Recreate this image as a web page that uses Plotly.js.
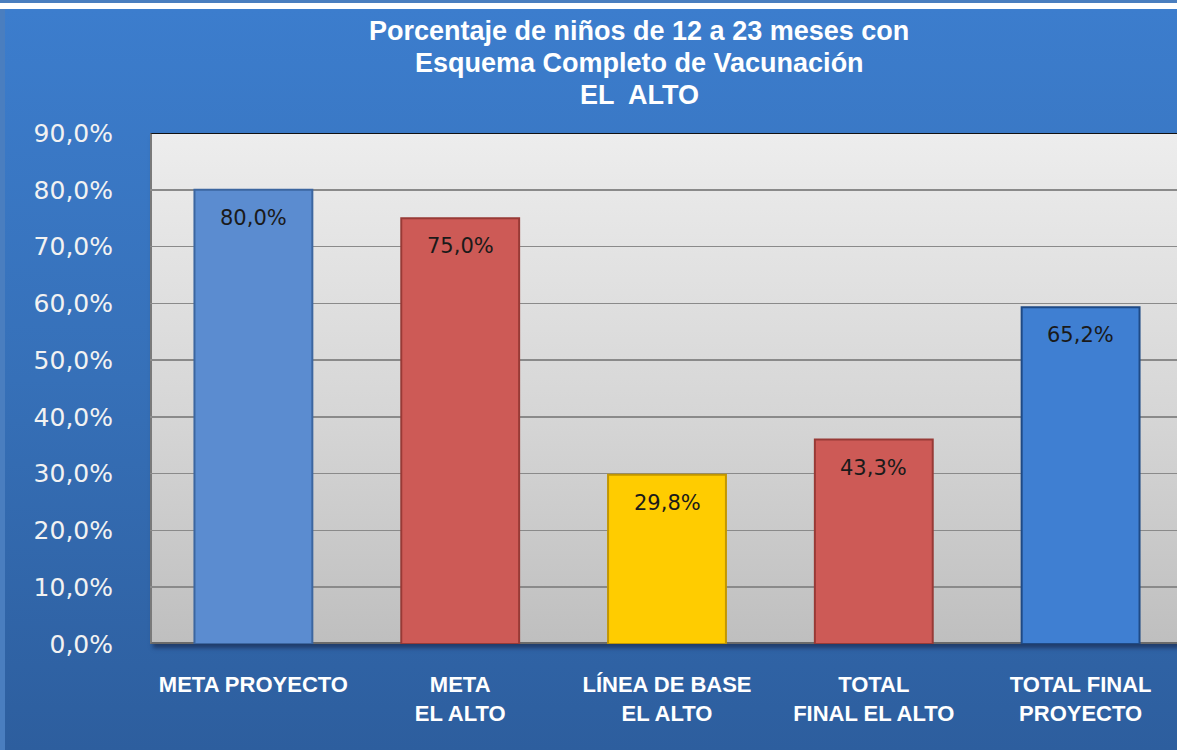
<!DOCTYPE html>
<html>
<head>
<meta charset="utf-8">
<script src="https://cdn.plot.ly/plotly-3.0.1.min.js"></script>
<style>
  html, body { margin:0; padding:0; width:1177px; height:750px; overflow:hidden; background:#4a7ebf; }
  #white { position:absolute; left:0; top:3px; width:1177px; height:6px; background:#ffffff; }
  #panel { position:absolute; left:5px; top:9px; width:1172px; height:741px;
           background:linear-gradient(to bottom, #3c7dcd 0%, #3670b8 50%, #2d5e9e 100%); }
  #plotbg { position:absolute; left:150px; top:133px; width:1027px; height:511px;
            background:linear-gradient(to bottom, #ededed 0%, #d6d6d6 55%, #bfbfbf 100%);
            border-top:1px solid #111; border-left:2px solid #7a7a7a; border-bottom:2px solid #6a6a6a;
            box-sizing:border-box; box-shadow: 3px 4px 4px rgba(20,30,60,0.55); }
  #chart { position:absolute; left:0; top:0; width:1177px; height:750px; }
</style>
</head>
<body>
<div id="white"></div>
<div id="panel"></div>
<div id="plotbg"></div>
<div id="chart"></div>
<script>
const categories = ["META PROYECTO", "META<br>EL ALTO", "LÍNEA DE BASE<br>EL ALTO", "TOTAL<br>FINAL EL ALTO", "TOTAL FINAL<br>PROYECTO"];
const barHeights = [80.0, 75.0, 29.8, 36.0, 59.3];
const barLabels = ["80,0%", "75,0%", "29,8%", "43,3%", "65,2%"];
const barColors = ["#5b8cd0", "#cd5a56", "#ffcc00", "#cd5a56", "#3f7fd2"];
const barEdges = ["#3c66a0", "#983a36", "#c29600", "#983a36", "#1f4a85"];
const yTickVals = [0, 10, 20, 30, 40, 50, 60, 70, 80, 90];
const yTickText = ["0,0%", "10,0%", "20,0%", "30,0%", "40,0%", "50,0%", "60,0%", "70,0%", "80,0%", "90,0%"];
const titleLines = ["Porcentaje de niños de 12 a 23 meses con", "Esquema Completo de Vacunación", "EL  ALTO"];

const xIdx = categories.map((c, i) => i);

const trace = {
  type: "bar",
  x: xIdx,
  y: barHeights,
  width: 0.57,
  marker: { color: barColors, line: { color: barEdges, width: 2 } },
  hoverinfo: "none"
};

const annotations = barLabels.map((t, i) => ({
  x: i, y: barHeights[i], xref: "x", yref: "y",
  text: t, showarrow: false, yshift: -28, yanchor: "middle",
  font: { family: "DejaVu Sans, Verdana, sans-serif", size: 21, color: "#1a1a1a" }
}));

const titleY = [31, 63, 95];
const plotL = 150, plotT = 133, plotB = 644, plotW = 1027, plotH = plotB - plotT;
titleLines.forEach((t, i) => {
  annotations.push({
    x: (639 - plotL) / plotW, y: (plotB - titleY[i]) / plotH, xref: "paper", yref: "paper",
    xanchor: "center", yanchor: "middle", text: "<b>" + t + "</b>", showarrow: false,
    font: { family: "Liberation Sans, Arial, sans-serif", size: 27, color: "#ffffff" }
  });
});

const layout = {
  width: 1177, height: 750,
  margin: { l: plotL, r: 1177 - plotL - plotW, t: plotT, b: 750 - plotB, pad: 0 },
  paper_bgcolor: "rgba(0,0,0,0)",
  plot_bgcolor: "rgba(0,0,0,0)",
  showlegend: false,
  xaxis: {
    range: [-0.5, -0.5 + plotW / 206.8],
    tickvals: xIdx, ticktext: categories.map(c => "<b>" + c + "</b>"),
    showgrid: false, zeroline: false, showline: false, ticks: "",
    ticklabelstandoff: 25,
    tickfont: { family: "Liberation Sans, Arial, sans-serif", size: 22, color: "#ffffff" },
    fixedrange: true
  },
  yaxis: {
    range: [0, 90],
    tickvals: yTickVals, ticktext: yTickText,
    showgrid: true, gridcolor: "#8a8a8a", gridwidth: 1.5,
    zeroline: false, showline: false, ticks: "",
    ticklabelstandoff: 36,
    tickfont: { family: "DejaVu Sans, Verdana, sans-serif", size: 25, color: "#f2f2f2" },
    fixedrange: true
  },
  annotations: annotations,
  bargap: 0.43
};

Plotly.newPlot("chart", [trace], layout, { displayModeBar: false, staticPlot: true });
</script>
</body>
</html>
